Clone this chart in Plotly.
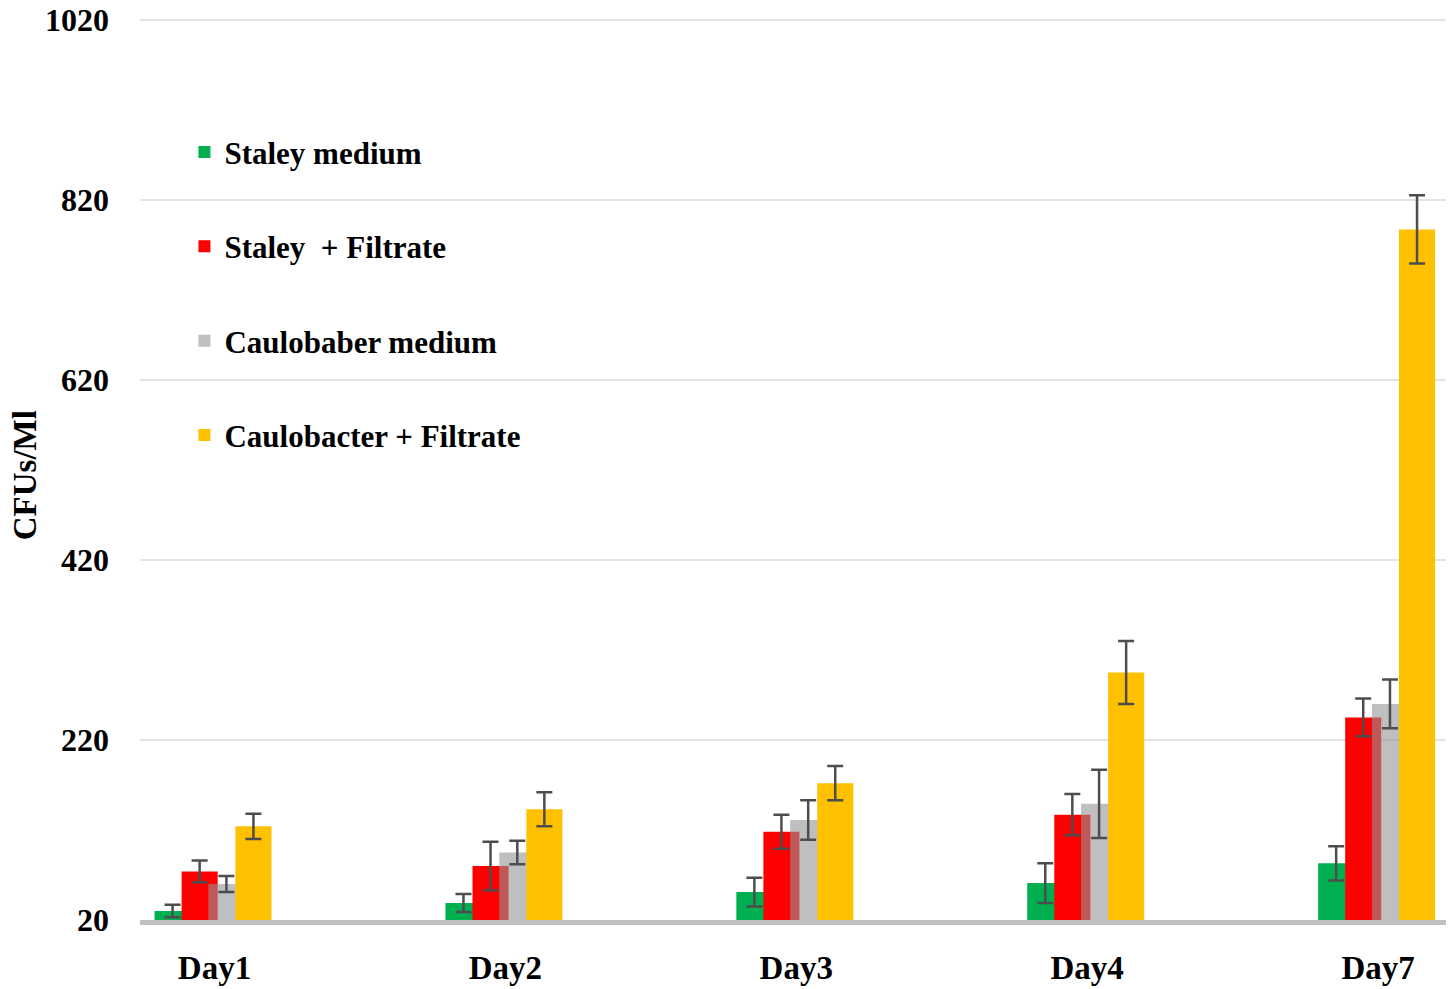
import plotly.graph_objects as go

days = ["Day1", "Day2", "Day3", "Day4", "Day7"]

staley = [30, 39, 51, 61, 83]
staley_err = [7, 10, 16, 22, 19]

staley_filtrate = [74, 80, 118, 137, 245]
staley_filtrate_err = [12, 27, 19, 23, 21]

caulo = [60, 95, 131, 149, 260]
caulo_err = [9, 13, 22, 38, 27]

caulo_filtrate = [124, 143, 172, 295, 787]
caulo_filtrate_err = [14, 19, 19, 35, 38]

names = ["Staley medium", "Staley  + Filtrate", "Caulobaber medium", "Caulobacter + Filtrate"]
colors = ["#00B050", "#FF0000", "rgba(148,148,148,0.6)", "#FFC000"]

series = [
    (staley, staley_err),
    (staley_filtrate, staley_filtrate_err),
    (caulo, caulo_err),
    (caulo_filtrate, caulo_filtrate_err),
]
# bars overlap a little, like the original (grey is see-through over red)
offsets = [-0.206, -0.113, -0.021, 0.072]
bar_w = 0.124

fig = go.Figure()
for i, (vals, errs) in enumerate(series):
    fig.add_trace(
        go.Bar(
            x=days,
            y=vals,
            name=names[i],
            legendgroup=names[i],
            marker=dict(color=colors[i], line=dict(width=0)),
            offset=offsets[i],
            width=bar_w,
            error_y=dict(type="data", array=errs, color="#4D4D4D", thickness=2.5, width=8),
        )
    )

# y title sits right at the left edge, so place it by hand
fig.add_annotation(
    text="CFUs/Ml",
    textangle=-90,
    xref="paper",
    yref="paper",
    x=0,
    y=0.492,
    xshift=-115,
    xanchor="center",
    yanchor="middle",
    showarrow=False,
    font=dict(size=33),
)

# page body has an 8px margin, so the figure is a bit smaller than the window
fig.update_layout(
    barmode="overlay",
    width=1446,
    height=981,
    margin=dict(l=132, r=7, t=8, b=69),
    plot_bgcolor="white",
    paper_bgcolor="white",
    font=dict(family="Liberation Serif", size=28, color="black", weight="bold"),
    legend=dict(
        x=0.034,
        y=0.879,
        xanchor="left",
        yanchor="top",
        bgcolor="rgba(0,0,0,0)",
        tracegroupgap=51,
        font=dict(size=31),
    ),
    xaxis=dict(
        range=[-0.256, 4.237],
        automargin=False,
        showline=True,
        linecolor="#BFBFBF",
        linewidth=5,
        showgrid=False,
        ticks="",
        ticklabelstandoff=14,
        tickfont=dict(size=33),
    ),
    yaxis=dict(
        range=[20, 1024],
        automargin=False,
        tickvals=[20, 220, 420, 620, 820, 1020],
        showgrid=True,
        gridcolor="#E3E3E3",
        gridwidth=2,
        zeroline=False,
        showline=False,
        ticks="",
        ticklabelstandoff=30,
        ticklabeloverflow="allow",
        tickfont=dict(size=32),
    ),
)

fig.write_html("out.html")
